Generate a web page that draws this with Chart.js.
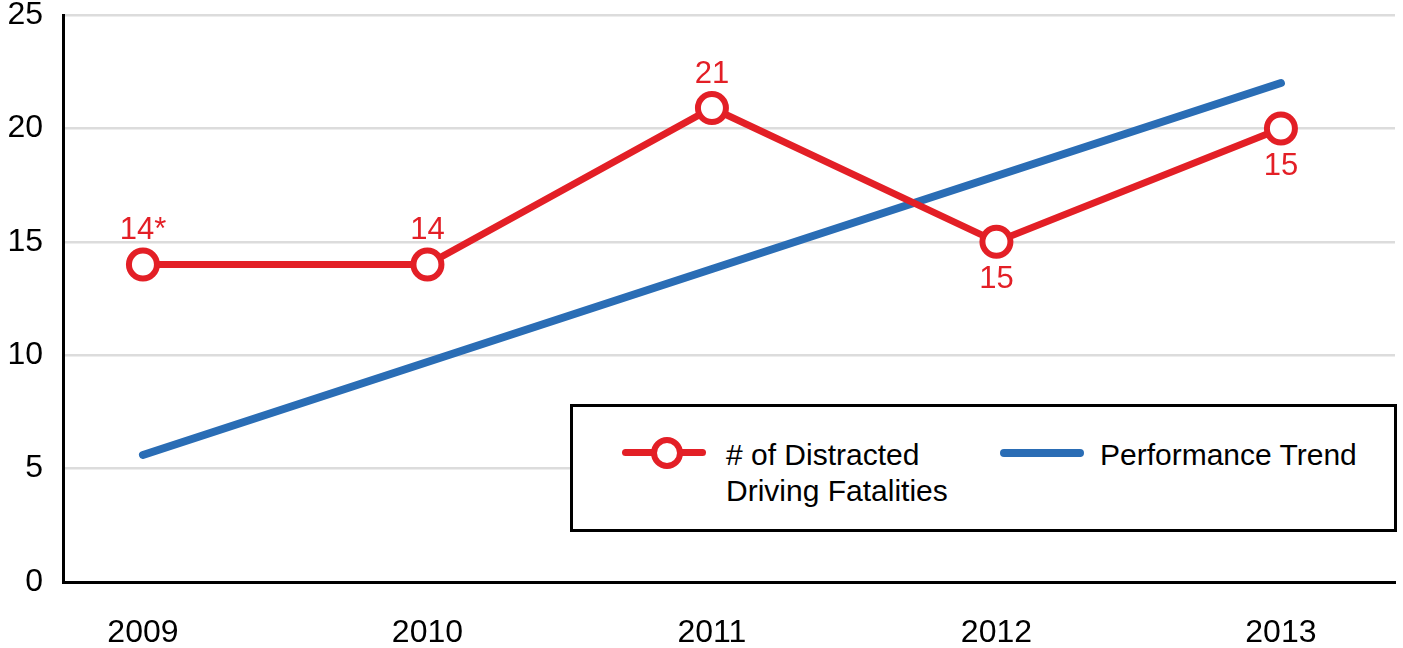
<!DOCTYPE html>
<html>
<head>
<meta charset="utf-8">
<script src="https://cdn.jsdelivr.net/npm/chart.js@4/dist/chart.umd.min.js"></script>
<style>
  html, body { margin: 0; padding: 0; background: #fff; }
  #wrap { position: relative; width: 1403px; height: 648px; font-family: "Liberation Sans", Arial, Helvetica, sans-serif; }
  canvas { position: absolute; left: 0; top: 0; }
  #legend { position: absolute; left: 570px; top: 404px; width: 821px; height: 122px; border: 3px solid #000; background: #fff; }
  .item { position: absolute; top: 30px; font-size: 30px; line-height: 36px; color: #000; }
  .mk { position: absolute; }
</style>
</head>
<body>
<div id="wrap">
  <canvas id="c" width="1403" height="648"></canvas>
  <div id="legend">
    <div class="mk" style="left:49px;top:42px;width:84px;height:7px;background:#e31f26;border-radius:4px;"></div>
    <div class="mk" style="left:78px;top:30px;width:20px;height:20px;border:6px solid #e31f26;border-radius:50%;background:#fff;"></div>
    <div class="item" style="left:153px;">#&nbsp;of Distracted<br>Driving Fatalities</div>
    <div class="mk" style="left:427px;top:42px;width:84px;height:8px;background:#2a6db5;border-radius:4px;"></div>
    <div class="item" style="left:527px;">Performance Trend</div>
  </div>
</div>
<script>
const years = [2009, 2010, 2011, 2012, 2013];
const fatalities = [14, 14, 20.9, 15, 20];
const fatalityLabels = ['14*', '14', '21', '15', '15'];
const trend = [5.6, 9.7, 13.8, 17.9, 22.0];
const yTicks = [0, 5, 10, 15, 20, 25];

const RED = '#e31f26';
const BLUE = '#2a6db5';
const FONT = '"Liberation Sans", Arial, Helvetica, sans-serif';

const labelPlugin = {
  id: 'pointLabels',
  afterDatasetsDraw(chart, args, opts) {
    const ctx = chart.ctx;
    const meta = chart.getDatasetMeta(0);
    ctx.save();
    ctx.fillStyle = RED;
    ctx.font = '31px ' + FONT;
    ctx.textAlign = 'center';
    ctx.textBaseline = 'middle';
    meta.data.forEach((pt, i) => {
      const dy = opts.below[i] ? 38 : -34;
      ctx.fillText(fatalityLabels[i], pt.x, pt.y + dy);
    });
    ctx.restore();
  }
};

new Chart(document.getElementById('c'), {
  type: 'line',
  data: {
    datasets: [
      {
        label: '# of Distracted Driving Fatalities',
        data: years.map((y, i) => ({ x: y, y: fatalities[i] })),
        borderColor: RED,
        borderWidth: 7,
        pointRadius: 14,
        pointBorderWidth: 6,
        pointBackgroundColor: '#fff',
        pointBorderColor: RED,
        tension: 0
      },
      {
        label: 'Performance Trend',
        data: years.map((y, i) => ({ x: y, y: trend[i] })),
        borderColor: BLUE,
        borderWidth: 8,
        borderCapStyle: 'round',
        pointRadius: 0,
        tension: 0
      }
    ]
  },
  options: {
    responsive: false,
    devicePixelRatio: 1,
    animation: false,
    events: [],
    layout: { autoPadding: false, padding: { top: 15, right: 8, left: 0, bottom: 0 } },
    plugins: {
      legend: { display: false },
      tooltip: { enabled: false },
      pointLabels: { below: [false, false, false, true, true] }
    },
    scales: {
      x: {
        type: 'linear',
        min: 2008.719,
        max: 2013.401,
        afterBuildTicks: (s) => { s.ticks = years.map(v => ({ value: v })); },
        afterFit: (s) => { s.height = 66; s.paddingLeft = 0; s.paddingRight = 0; },
        grid: { display: false, drawTicks: false },
        border: { display: true, color: '#000', width: 3 },
        ticks: {
          callback: (v) => String(v),
          color: '#000',
          font: { family: FONT, size: 32 },
          padding: 32,
          maxRotation: 0
        }
      },
      y: {
        min: 0,
        max: 25,
        afterBuildTicks: (s) => { s.ticks = yTicks.map(v => ({ value: v })); },
        afterFit: (s) => { s.width = 63; s.paddingTop = 0; s.paddingBottom = 0; },
        grid: { color: '#dcdcdc', lineWidth: 2.5, drawTicks: false },
        border: { display: true, color: '#000', width: 3 },
        ticks: {
          color: '#000',
          font: { family: FONT, size: 32 },
          padding: 20
        }
      }
    }
  },
  plugins: [labelPlugin]
});
</script>
</body>
</html>
